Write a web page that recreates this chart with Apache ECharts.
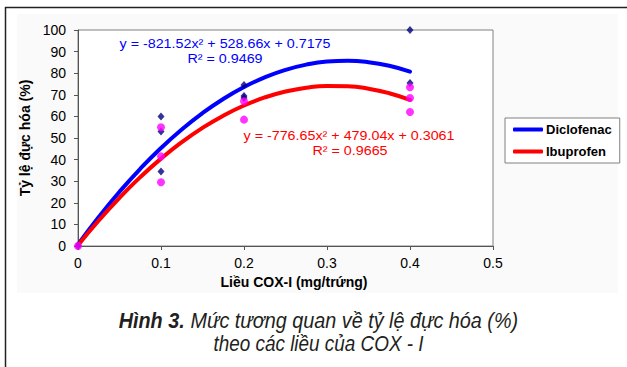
<!DOCTYPE html>
<html>
<head>
<meta charset="utf-8">
<script src="https://cdn.jsdelivr.net/npm/echarts@6/dist/echarts.min.js"></script>
<style>
html,body{margin:0;padding:0;background:#fff;}
#chart{width:627px;height:367px;}
</style>
</head>
<body>
<div id="chart"></div>
<script>
// ---- data ----
const xTicks = [0, 0.1, 0.2, 0.3, 0.4, 0.5];
const yTicks = [0, 10, 20, 30, 40, 50, 60, 70, 80, 90, 100];

const diclofenacX = [0, 0.1, 0.1, 0.1, 0.2, 0.2, 0.2, 0.4, 0.4];
const diclofenacY = [0, 60, 53, 34.5, 74.5, 69.5, 68.5, 100, 75.5];

const ibuprofenX = [0, 0.1, 0.1, 0.1, 0.2, 0.2, 0.4, 0.4, 0.4];
const ibuprofenY = [0, 55, 41.5, 29.5, 67, 58.5, 73.5, 68.5, 62];

// trendline points
const trendX = [0, 0.025, 0.05, 0.075, 0.1, 0.125, 0.15, 0.175, 0.2, 0.225, 0.25, 0.275, 0.3, 0.325, 0.35, 0.375, 0.4];
const diclofenacTrend = [0.72, 13.42, 25.10, 35.75, 45.37, 53.96, 61.53, 68.07, 73.59, 78.08, 81.54, 83.97, 85.38, 85.76, 85.11, 83.44, 80.74];
const ibuprofenTrend = [0.31, 11.80, 22.32, 31.87, 40.44, 48.05, 54.69, 60.35, 65.05, 68.77, 71.53, 73.31, 74.12, 73.96, 72.83, 70.73, 67.66];

const seriesNames = ['Diclofenac', 'Ibuprofen'];
const eqDiclofenac = ['y = -821.52x² + 528.66x + 0.7175', 'R² = 0.9469'];
const eqIbuprofen = ['y = -776.65x² + 479.04x + 0.3061', 'R² = 0.9665'];
const xTitle = 'Liều COX-I (mg/trứng)';
const yTitle = 'Tỷ lệ đực hóa (%)';
const captionBold = 'Hình 3.';
const captionLine1 = ' Mức tương quan về tỷ lệ đực hóa (%)';
const captionLine2 = 'theo các liều của COX - I';

// ---- build ----
const zip = (xs, ys) => xs.map((x, i) => [x, ys[i]]);
const chart = echarts.init(document.getElementById('chart'), null, {renderer: 'svg'});
const FONT = '"Liberation Sans", Arial, sans-serif';
const CAPFONT = '"Liberation Sans", Arial, sans-serif';

chart.setOption({
  animation: false,
  backgroundColor: '#fff',
  grid: {left: 78, top: 30, width: 415, height: 216, show: true, borderColor: '#808080', borderWidth: 1, backgroundColor: '#fff'},
  legend: {
    data: seriesNames.map(n => ({name: n, icon: 'roundRect'})),
    orient: 'vertical', left: 505, top: 118,
    itemWidth: 30, itemHeight: 4, itemGap: 9,
    padding: [5, 8, 5, 8],
    borderColor: '#808080', borderWidth: 1, backgroundColor: '#fff',
    textStyle: {fontFamily: FONT, fontSize: 13, fontWeight: 'bold', color: '#000', padding: [0, 0, 0, -2]}
  },
  xAxis: {
    type: 'value', min: xTicks[0], max: xTicks[xTicks.length - 1], interval: 0.1,
    name: xTitle, nameLocation: 'middle', nameGap: 29,
    nameTextStyle: {fontFamily: FONT, fontSize: 14, fontWeight: 'bold', color: '#000', padding: [0, 0, 0, 17]},
    axisLine: {lineStyle: {color: '#555', width: 1}},
    axisTick: {show: true, length: 4, lineStyle: {color: '#555'}},
    axisLabel: {fontFamily: FONT, fontSize: 14, color: '#000', margin: 10},
    splitLine: {show: false}
  },
  yAxis: {
    type: 'value', min: yTicks[0], max: yTicks[yTicks.length - 1], interval: 10,
    name: yTitle, nameLocation: 'middle', nameGap: 43, nameRotate: 90,
    nameTextStyle: {fontFamily: FONT, fontSize: 14, fontWeight: 'bold', color: '#000'},
    axisLine: {show: true, lineStyle: {color: '#555', width: 1}},
    axisTick: {show: true, length: 4, lineStyle: {color: '#555'}},
    axisLabel: {fontFamily: FONT, fontSize: 14, color: '#000', margin: 12},
    splitLine: {show: false}
  },
  series: [
    {name: seriesNames[0], type: 'line', data: zip(trendX, diclofenacTrend), smooth: true, showSymbol: false, z: 2,
     itemStyle: {color: '#0000FF'}, lineStyle: {color: '#0000FF', width: 4, cap: 'round'}},
    {name: seriesNames[1], type: 'line', data: zip(trendX, ibuprofenTrend), smooth: true, showSymbol: false, z: 3,
     itemStyle: {color: '#FF0000'}, lineStyle: {color: '#FF0000', width: 4, cap: 'round'}},
    {name: 'Diclofenac data', type: 'scatter', data: zip(diclofenacX, diclofenacY), symbol: 'diamond', symbolSize: [7, 8], z: 4,
     itemStyle: {color: '#000080'}},
    {name: 'Ibuprofen data', type: 'scatter', data: zip(ibuprofenX, ibuprofenY), symbol: 'circle', symbolSize: 8, z: 5,
     itemStyle: {color: '#FF00FF'}}
  ],
  graphic: [
    {type: 'rect', z: -10, silent: true, shape: {x: 17, y: 14, width: 601, height: 279}, style: {fill: '#fafafa'}},
    {type: 'line', z: 10, shape: {x1: 5, y1: 7.5, x2: 627, y2: 7.5}, style: {stroke: '#222', lineWidth: 1.5}},
    {type: 'line', z: 10, shape: {x1: 5.5, y1: 7, x2: 5.5, y2: 367}, style: {stroke: '#222', lineWidth: 1.5}},
    {type: 'text', z: 20, x: 225, y: 43.5, scaleX: 1.1, style: {text: eqDiclofenac[0], fill: '#0000FF', font: '13px ' + FONT, textAlign: 'center', textVerticalAlign: 'middle'}},
    {type: 'text', z: 20, x: 225, y: 58.5, scaleX: 1.1, style: {text: eqDiclofenac[1], fill: '#0000FF', font: '13px ' + FONT, textAlign: 'center', textVerticalAlign: 'middle'}},
    {type: 'text', z: 20, x: 349, y: 136, scaleX: 1.1, style: {text: eqIbuprofen[0], fill: '#FF0000', font: '13px ' + FONT, textAlign: 'center', textVerticalAlign: 'middle'}},
    {type: 'text', z: 20, x: 350, y: 151, scaleX: 1.1, style: {text: eqIbuprofen[1], fill: '#FF0000', font: '13px ' + FONT, textAlign: 'center', textVerticalAlign: 'middle'}},
    {type: 'text', z: 20, x: 318.5, y: 320, scaleX: 0.9, style: {
      text: '{b|' + captionBold + '}{i|' + captionLine1 + '}',
      textAlign: 'center', textVerticalAlign: 'middle',
      rich: {
        b: {fontFamily: CAPFONT, fontSize: 22, fontStyle: 'italic', fontWeight: 'bold', fill: '#231f20'},
        i: {fontFamily: CAPFONT, fontSize: 22, fontStyle: 'italic', fill: '#231f20'}
      }}},
    {type: 'text', z: 20, x: 318.5, y: 343, scaleX: 0.86, style: {text: captionLine2, fill: '#231f20', font: 'italic 22px ' + CAPFONT, textAlign: 'center', textVerticalAlign: 'middle'}}
  ]
});
</script>
</body>
</html>
